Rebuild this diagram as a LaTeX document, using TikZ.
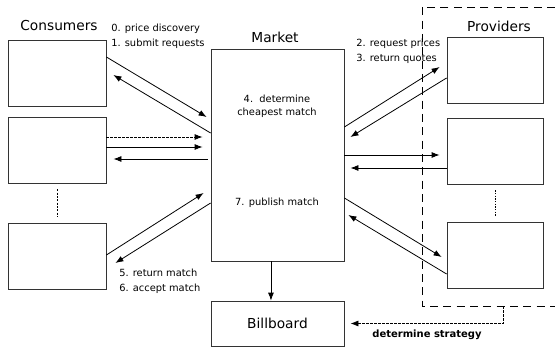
\documentclass[tikz,border=0pt]{standalone}
\usepackage{fontspec}
\setmainfont{DejaVu Sans}
\usetikzlibrary{arrows.meta}
\tikzset{
  party/.style={draw=black!80,line width=0.6pt,minimum width=73.5pt,minimum height=49.5pt,inner sep=0pt},
  hub/.style={draw=black!80,line width=0.6pt,minimum width=99.75pt,inner sep=0pt},
  flow/.style={line width=0.6pt,-{Latex[length=6pt,width=4.5pt]}},
  note/.style={font=\fontsize{7.4}{11.5}\selectfont,align=left,inner sep=0pt},
  title/.style={font=\fontsize{10.3}{12}\selectfont}
}
\begin{document}
\begin{tikzpicture}[x=0.75pt,y=-0.75pt]
\useasboundingbox (0,0) rectangle (555,349);
% consumers
\node[party] (c1) at (57,73) {};
\node[party] (c2) at (57,150) {};
\node[party] (c3) at (57,256) {};
\draw[line width=0.6pt,dash pattern=on 1.5pt off 1pt,shorten <=4.5pt,shorten >=4.5pt] (c2.south) -- (c3.north);
\node[title] (ctitle) at (59,26) {Consumers};
% providers
\node[party,minimum width=72pt] (p1) at (495,70.5) {};
\node[party,minimum width=72pt] (p2) at (495,151) {};
\node[party,minimum width=72pt] (p3) at (495,255) {};
\draw[line width=0.6pt,dash pattern=on 1pt off 1pt,shorten <=4.5pt,shorten >=4.5pt] (p2.south) -- (p3.north);
\node[title] (ptitle) at (499,26) {Providers};
\draw[line width=0.6pt,dash pattern=on 6pt off 4pt] (555,7) -| (422,306) -- (555,306);
\coordinate (strat) at (503,306);
% market and billboard
\node[hub,minimum height=159pt] (m) at (277.5,155) {};
\node[title] (mtitle) at (275,37) {Market};
\node[note,align=center] (decide) at (277,106) {4.\ \ determine\\[-1.75pt]cheapest match};
\node[note] (publish) at (277,203) {7. publish match};
\node[hub,minimum height=33.75pt,title] (b) at (277.5,323.5) {Billboard};
\draw[flow] ([xshift=-4.9pt]m.south) -- ([xshift=-4.9pt]b.north);
\draw[flow,dash pattern=on 2pt off 1pt] (strat) |- ([xshift=4.5pt]b.east);
\node[font=\fontsize{7.5}{9}\selectfont\bfseries] (stext) at (427,335) {determine strategy};
% consumer side
\draw[flow] ([yshift=12pt]c1.east) -- ([xshift=-3pt,yshift=28.5pt]m.west);
\draw[flow] ([yshift=16.5pt]m.west) -- ([xshift=5.25pt,yshift=-1.5pt]c1.east);
\draw[flow,dash pattern=on 2pt off 1pt] ([yshift=9.75pt]c2.east) -- ([xshift=-6pt,yshift=13.5pt]m.west);
\draw[flow] ([yshift=2.25pt]c2.east) -- ([xshift=-6pt,yshift=6pt]m.west);
\draw[flow] ([xshift=-2pt,yshift=-3pt]m.west) -- ([xshift=5.25pt,yshift=-6.75pt]c2.east);
\draw[flow] ([yshift=0.75pt]c3.east) -- ([xshift=-5.25pt,yshift=-28.5pt]m.west);
\draw[flow] ([yshift=-36pt]m.west) -- ([xshift=6.75pt,yshift=-5.25pt]c3.east);
\node[note,anchor=west] (req) at (111,36.5) {0. price discovery\\1. submit requests};
\node[note,anchor=west] (acc) at (119,281) {5. return match\\6. accept match};
% provider side
\draw[flow] ([yshift=21pt]m.east) -- ([xshift=-5.25pt,yshift=2.6pt]p1.west);
\draw[flow] ([yshift=-5.6pt]p1.west) -- ([xshift=4.5pt,yshift=13.5pt]m.east);
\draw[flow] (m.east) -- ([xshift=-5.25pt,yshift=-3pt]p2.west);
\draw[flow] ([yshift=-12.75pt]p2.west) -- ([xshift=4.5pt,yshift=-9.75pt]m.east);
\draw[flow] ([yshift=-32.25pt]m.east) -- ([xshift=-3.75pt,yshift=-1.5pt]p3.west);
\draw[flow] ([yshift=-14.25pt]p3.west) -- ([xshift=3pt,yshift=-45pt]m.east);
\node[note,anchor=west] (quote) at (356,51) {2. request prices\\3. return quotes};
\end{tikzpicture}
\end{document}
